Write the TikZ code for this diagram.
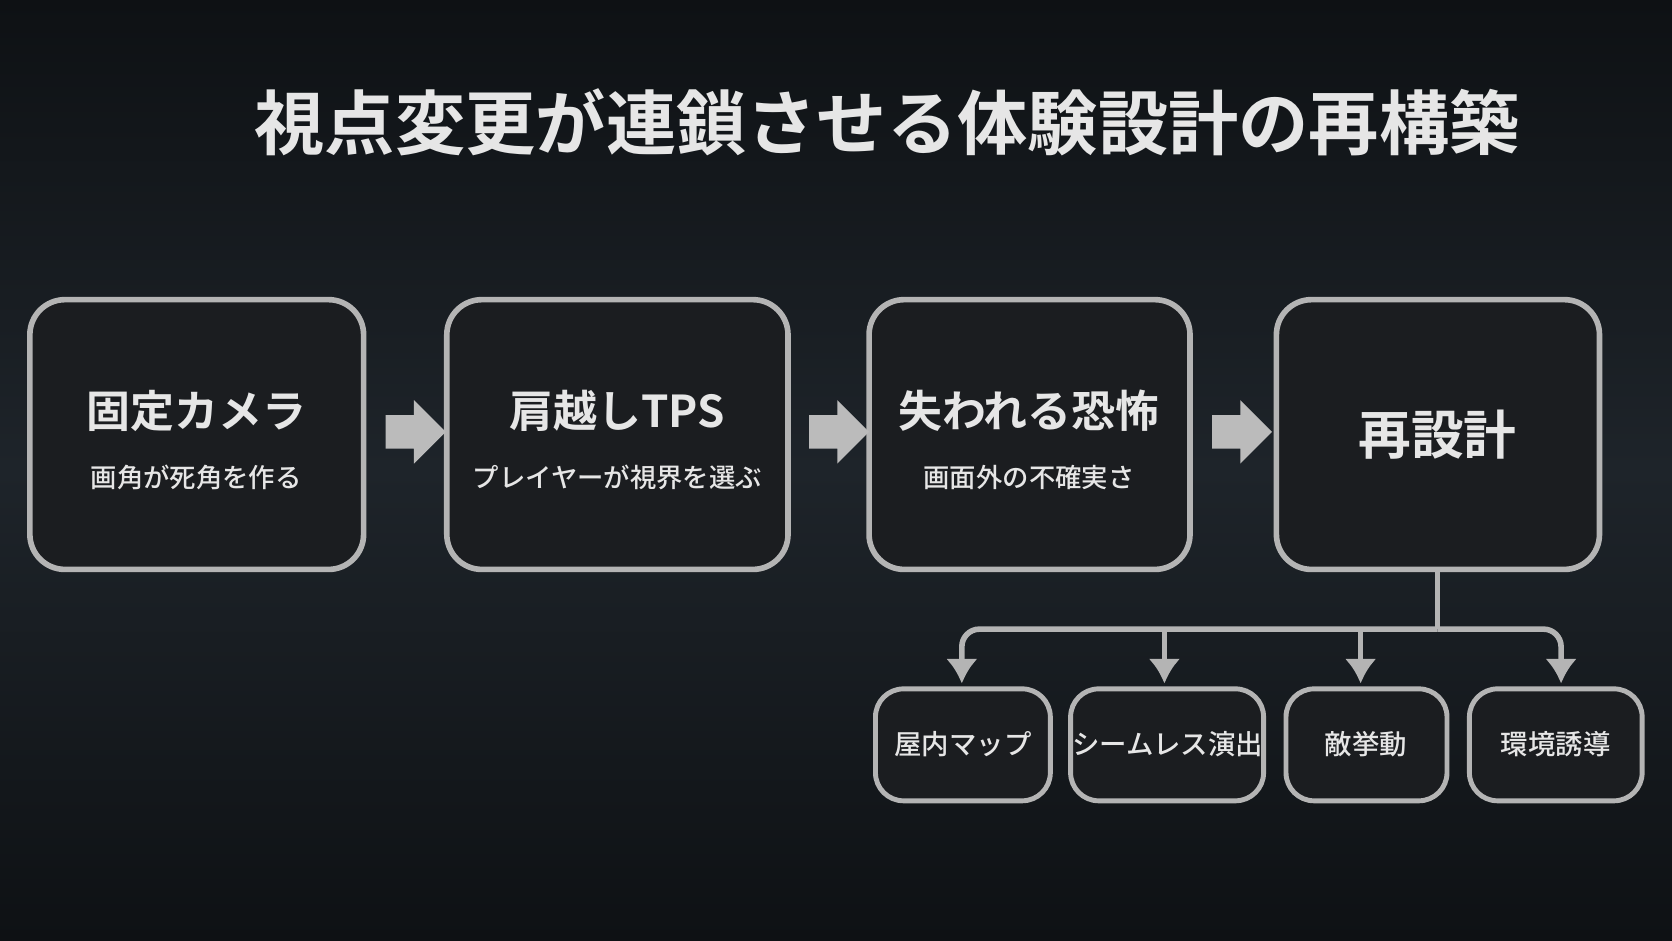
\documentclass[tikz,border=0pt]{standalone}
\usepackage{fontspec}
\newfontfamily\cjk{Noto Sans CJK JP Medium}
\newfontfamily\cjkb{Noto Sans CJK JP Bold}
\usetikzlibrary{shapes.arrows,arrows.meta}
\definecolor{bg}{HTML}{0E1114}
\definecolor{bgl}{HTML}{1E242A}
\definecolor{boxf}{HTML}{1B1D20}
\definecolor{boxd}{HTML}{B4B4B4}
\definecolor{txt}{HTML}{E6E6E6}
\begin{document}
\begin{tikzpicture}[x=0.010663cm,y=-0.010663cm,
  big/.style={draw=boxd,line width=1.6pt,fill=boxf,rounded corners=10pt},
  small/.style={draw=boxd,line width=1.4pt,fill=boxf,rounded corners=8pt},
  arr/.style={single arrow,fill=boxd!90,draw=none,minimum height=0.6cm,text height=0.32cm,text depth=0pt,text width=0pt,single arrow head extend=0.15cm,single arrow head indent=0pt,inner sep=0pt},
  conn/.style={draw=boxd,line width=1.6pt},
  tip/.style={conn,-{Latex[length=7pt,width=9pt]}}]
\useasboundingbox (0,0) rectangle (1568,882);
\shade[top color=bg,bottom color=bg,middle color=bgl] (0,0) rectangle (1568,882);
\node[text=txt,font=\cjkb\fontsize{20}{22}\selectfont] (title) at (832,115) {視点変更が連鎖させる体験設計の再構築};
\draw[big] (28,281) rectangle (341,534);
\draw[big] (419,281) rectangle (739,534);
\draw[big] (815,281) rectangle (1116,534);
\draw[big] (1197,281) rectangle (1500,534);
\node[text=txt,font=\cjkb\fontsize{12.5}{15}\selectfont] (t1) at (184,385) {固定カメラ};
\node[text=txt,font=\cjk\fontsize{7.5}{9}\selectfont] (s1) at (184,448) {画角が死角を作る};
\node[text=txt,font=\cjkb\fontsize{12.5}{15}\selectfont] (t2) at (579,385) {肩越しTPS};
\node[text=txt,font=\cjk\fontsize{7.5}{9}\selectfont] (s2) at (579,448) {プレイヤーが視界を選ぶ};
\node[text=txt,font=\cjkb\fontsize{12.5}{15}\selectfont] (t3) at (965,385) {失われる恐怖};
\node[text=txt,font=\cjk\fontsize{7.5}{9}\selectfont] (s3) at (965,448) {画面外の不確実さ};
\node[text=txt,font=\cjkb\fontsize{15}{17}\selectfont] (t4) at (1348,408) {再設計};
\node[arr] (a1) at (382,405) {};
\node[arr] (a2) at (779,405) {};
\node[arr] (a3) at (1157,405) {};
\draw[small] (821,646) rectangle (985,751);
\draw[small] (1004,646) rectangle (1185,751);
\draw[small] (1206,646) rectangle (1357,751);
\draw[small] (1378,646) rectangle (1540,751);
\node[text=txt,font=\cjk\fontsize{7.8}{10}\selectfont] (c1) at (903,698) {屋内マップ};
\node[text=txt,font=\cjk\fontsize{7.8}{10}\selectfont] (c2) at (1095,698) {シームレス演出};
\node[text=txt,font=\cjk\fontsize{7.8}{10}\selectfont] (c3) at (1281,698) {敵挙動};
\node[text=txt,font=\cjk\fontsize{7.8}{10}\selectfont] (c4) at (1459,698) {環境誘導};
\coordinate (d0) at (1348,535); \coordinate (j) at (1348,590);
\coordinate (h2) at (1092,590); \coordinate (h3) at (1276,590);
\coordinate (e1) at (902,641); \coordinate (e2) at (1092,641);
\coordinate (e3) at (1276,641); \coordinate (e4) at (1464,641);
\draw[conn] (d0) -- (j);
\draw[tip,rounded corners=5pt] (j) -- (902,590) -- (e1);
\draw[tip,rounded corners=5pt] (j) -- (1464,590) -- (e4);
\draw[tip] (h2) -- (e2);
\draw[tip] (h3) -- (e3);
\end{tikzpicture}
\end{document}
